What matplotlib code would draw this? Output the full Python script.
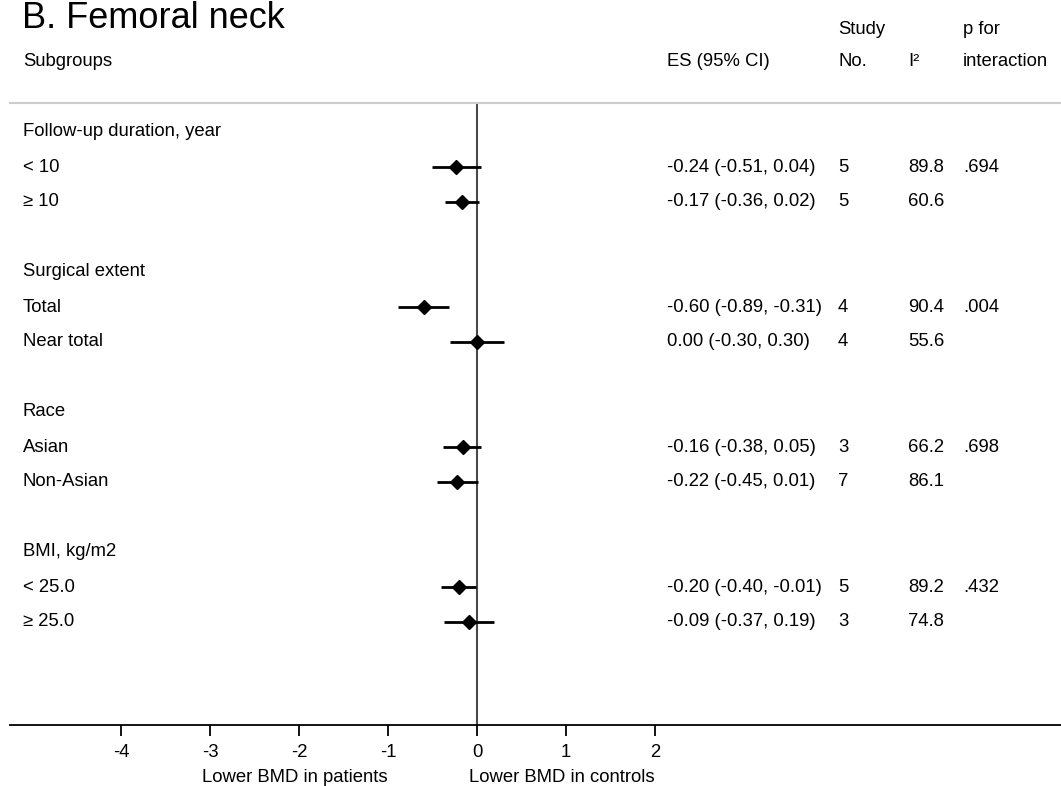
import matplotlib
matplotlib.use("Agg")
import matplotlib.pyplot as plt
import matplotlib.transforms as mtransforms

plt.rcParams['font.family'] = ['Liberation Sans', 'DejaVu Sans']

# data
groups = ["Follow-up duration, year", "Surgical extent", "Race", "BMI, kg/m2"]
subgroups = [["< 10", "\u2265 10"], ["Total", "Near total"], ["Asian", "Non-Asian"], ["< 25.0", "\u2265 25.0"]]
es = [-0.24, -0.17, -0.60, 0.00, -0.16, -0.22, -0.20, -0.09]
ci_lo = [-0.51, -0.36, -0.89, -0.30, -0.38, -0.45, -0.40, -0.37]
ci_hi = [0.04, 0.02, -0.31, 0.30, 0.05, 0.01, -0.01, 0.19]
n_studies = [5, 5, 4, 4, 3, 7, 5, 3]
i2 = [89.8, 60.6, 90.4, 55.6, 66.2, 86.1, 89.2, 74.8]
p_int = [".694", ".004", ".698", ".432"]
xticks = [-4, -3, -2, -1, 0, 1, 2]

W, H = 1061, 786
fig = plt.figure(figsize=(W / 100, H / 100), dpi=100)

# axes: px 10..1061 horizontally, 103..725 vertically
ax = fig.add_axes([10 / W, (H - 725) / H, 1 - 10 / W, (725 - 103) / H])
ax.set_xlim((10 - 477) / 89, (1061 - 477) / 89)
ax.set_ylim((725 - 132) / 35, (103 - 132) / 35)

fs = 13.3
col_x = {"label": 23 / W, "es": 667 / W, "n": 838 / W, "i2": 908 / W, "p": 963 / W}
trans = mtransforms.blended_transform_factory(fig.transFigure, ax.transData)

row = 0
k = 0
for g, subs in enumerate(groups):
    ax.text(col_x["label"], row, subs, transform=trans, fontsize=fs, va='center', ha='left')
    row += 1
    for j, name in enumerate(subgroups[g]):
        ax.plot([ci_lo[k], ci_hi[k]], [row, row], color='black', lw=2, solid_capstyle='butt', zorder=3)
        ax.plot(es[k], row, marker='D', color='black', ms=7, zorder=4)
        ax.text(col_x["label"], row, name, transform=trans, fontsize=fs, va='center', ha='left')
        ax.text(col_x["es"], row, f"{es[k]:.2f} ({ci_lo[k]:.2f}, {ci_hi[k]:.2f})",
                transform=trans, fontsize=fs, va='center', ha='left')
        ax.text(col_x["n"], row, str(n_studies[k]), transform=trans, fontsize=fs, va='center', ha='left')
        ax.text(col_x["i2"], row, f"{i2[k]:.1f}", transform=trans, fontsize=fs, va='center', ha='left')
        if j == 0:
            ax.text(col_x["p"], row, p_int[g], transform=trans, fontsize=fs, va='center', ha='left')
        row += 1
        k += 1
    row += 1

ax.axvline(0, color='#4a4a4a', lw=1.5, zorder=2)

for s in ['left', 'right']:
    ax.spines[s].set_visible(False)
ax.spines['bottom'].set_color('black')
ax.spines['bottom'].set_linewidth(1.3)
ax.spines['top'].set_color('#cccccc')
ax.spines['top'].set_linewidth(1.5)
ax.set_yticks([])
ax.set_xticks(xticks)
ax.set_xticklabels([str(t) for t in xticks])
ax.tick_params(axis='x', direction='out', length=8, width=1.3, labelsize=fs, pad=6)

# direction labels
lab_trans = mtransforms.blended_transform_factory(ax.transData, fig.transFigure)
ax.text(-2.05, 1 - 778 / H, "Lower BMD in patients", transform=lab_trans, fontsize=fs, ha='center', va='center')
ax.text(0.95, 1 - 778 / H, "Lower BMD in controls", transform=lab_trans, fontsize=fs, ha='center', va='center')

# header
fig.text(22 / W, 1 - 28 / H, "B. Femoral neck", fontsize=26, ha='left', va='baseline')
fig.text(col_x["label"], 1 - 66 / H, "Subgroups", fontsize=fs, ha='left', va='baseline')
fig.text(col_x["es"], 1 - 66 / H, "ES (95% CI)", fontsize=fs, ha='left', va='baseline')
fig.text(col_x["n"], 1 - 34 / H, "Study", fontsize=fs, ha='left', va='baseline')
fig.text(col_x["n"], 1 - 66 / H, "No.", fontsize=fs, ha='left', va='baseline')
fig.text(col_x["i2"], 1 - 66 / H, "I\u00b2", fontsize=fs, ha='left', va='baseline')
fig.text(col_x["p"], 1 - 34 / H, "p for", fontsize=fs, ha='left', va='baseline')
fig.text(col_x["p"], 1 - 66 / H, "interaction", fontsize=fs, ha='left', va='baseline')

fig.savefig("out.png", dpi=100)
